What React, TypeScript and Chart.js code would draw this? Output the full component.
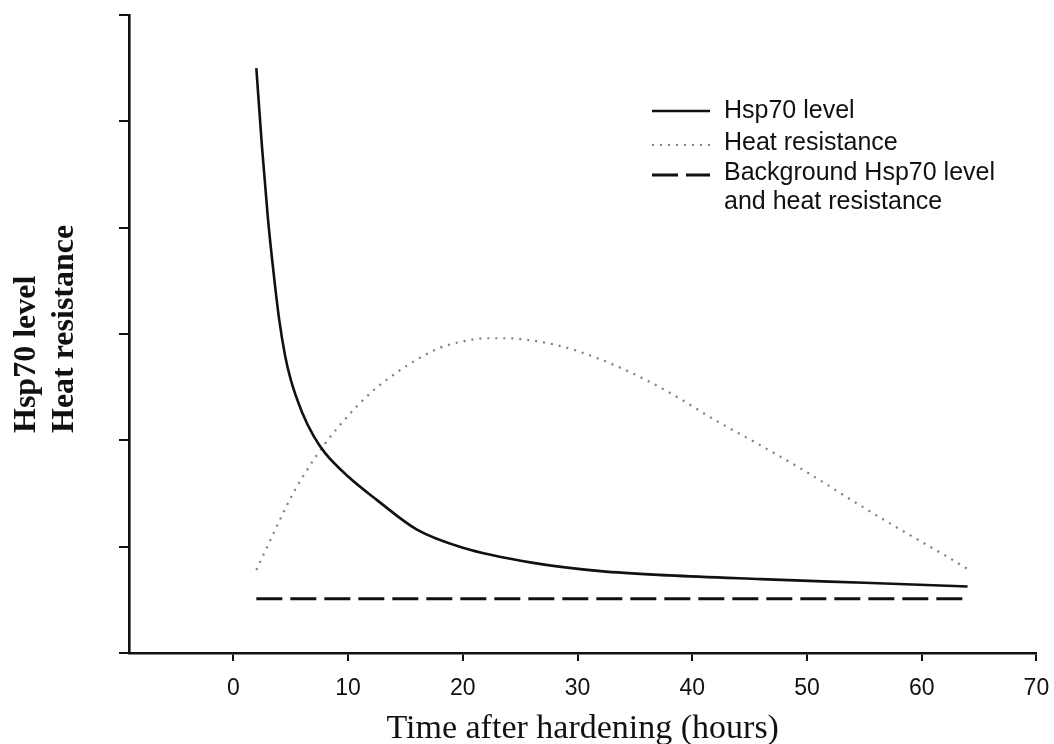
import React, { useEffect, useRef } from "react";
import { Chart, registerables } from "chart.js";

Chart.register(...registerables);

// ---- data ----
const X_TICKS = [0, 10, 20, 30, 40, 50, 60, 70];
const Y_TICKS = [0, 1, 2, 3, 4, 5, 6];
const X_MIN = -9.1;
const X_MAX = 70;
const Y_MIN = 0;
const Y_MAX = 6;

const HSP_X = [2, 2.5, 3, 3.5, 4, 4.5, 5, 6, 7, 8, 10, 12.5, 16, 20, 26, 32, 38, 46, 55, 64];
const HSP_Y = [5.5, 4.75, 4.1, 3.58, 3.13, 2.8, 2.57, 2.26, 2.04, 1.88, 1.66, 1.44, 1.16, 0.99, 0.85, 0.77, 0.73, 0.695, 0.66, 0.625];

const HEAT_X = [2, 3, 4, 5, 6, 8, 10, 12, 14, 16, 18, 20, 22, 24, 26, 28, 30, 34, 38, 42, 46, 50, 54, 58, 62, 64];
const HEAT_Y = [0.78, 1.01, 1.24, 1.46, 1.65, 1.97, 2.23, 2.45, 2.62, 2.76, 2.87, 2.93, 2.96, 2.96, 2.94, 2.9, 2.84, 2.67, 2.45, 2.19, 1.95, 1.7, 1.43, 1.17, 0.92, 0.79];

const BG_X = [2, 64];
const BG_Y = [0.51, 0.51];

const SERIES_NAMES = ["Hsp70 level", "Heat resistance", "Background Hsp70 level"];
const LEGEND_TEXT = [["Hsp70 level"], ["Heat resistance"], ["Background Hsp70 level", "and heat resistance"]];
const X_TITLE = "Time after hardening (hours)";
const Y_TITLE = ["Hsp70 level", "Heat resistance"];

const toPoints = (xs: number[], ys: number[]) => xs.map((x, i) => ({ x, y: ys[i] }));

const INK = "#111";

const overlayPlugin = {
  id: "overlay",
  afterDraw(chart: any) {
    const ctx = chart.ctx as CanvasRenderingContext2D;
    ctx.save();
    ctx.fillStyle = INK;
    // y-axis title, two left-aligned rotated lines
    ctx.font = 'bold 32px "Liberation Serif", "Times New Roman", serif';
    ctx.textAlign = "left";
    ctx.textBaseline = "alphabetic";
    const baseX = [35, 73];
    Y_TITLE.forEach((t, i) => {
      ctx.save();
      ctx.translate(baseX[i], 433);
      ctx.rotate(-Math.PI / 2);
      ctx.fillText(t, 0, 0);
      ctx.restore();
    });

    // legend
    const rows = [
      { sampleY: 111, baselines: [118] },
      { sampleY: 145, baselines: [150] },
      { sampleY: 175, baselines: [180, 209] },
    ];
    ctx.font = '25px "Liberation Sans", Arial, sans-serif';
    rows.forEach((row, i) => {
      const ds = chart.data.datasets[i];
      ctx.save();
      ctx.strokeStyle = ds.borderColor;
      ctx.lineWidth = ds.borderWidth;
      ctx.setLineDash(ds.borderDash || []);
      ctx.beginPath();
      ctx.moveTo(652, row.sampleY);
      ctx.lineTo(710, row.sampleY);
      ctx.stroke();
      ctx.restore();
      LEGEND_TEXT[i].forEach((line, j) => {
        ctx.fillText(line, 724, row.baselines[j]);
      });
    });
    ctx.restore();
  },
};

export default function App() {
  const canvasRef = useRef<HTMLCanvasElement | null>(null);

  useEffect(() => {
    const canvas = canvasRef.current;
    if (!canvas) return;
    const chart = new Chart(canvas, {
      type: "line",
      data: {
        datasets: [
          {
            label: SERIES_NAMES[0],
            data: toPoints(HSP_X, HSP_Y),
            borderColor: INK,
            borderWidth: 2.6,
            pointRadius: 0,
            cubicInterpolationMode: "monotone",
            fill: false,
          },
          {
            label: SERIES_NAMES[1],
            data: toPoints(HEAT_X, HEAT_Y),
            borderColor: "rgba(40,40,40,0.6)",
            borderWidth: 2.2,
            borderDash: [2, 6],
            pointRadius: 0,
            cubicInterpolationMode: "monotone",
            fill: false,
          },
          {
            label: SERIES_NAMES[2],
            data: toPoints(BG_X, BG_Y),
            borderColor: INK,
            borderWidth: 3,
            borderDash: [26, 8],
            pointRadius: 0,
            fill: false,
          },
        ],
      },
      options: {
        responsive: false,
        animation: false,
        devicePixelRatio: 1,
        layout: { padding: { left: 0, top: 15, right: 17.6, bottom: 0 } },
        plugins: {
          legend: { display: false },
          tooltip: { enabled: false },
        },
        scales: {
          x: {
            type: "linear",
            min: X_MIN,
            max: X_MAX,
            afterBuildTicks: (scale: any) => {
              scale.ticks = X_TICKS.map((v) => ({ value: v }));
            },
            afterFit: (scale: any) => {
              scale.height = 91;
              scale.paddingLeft = 0;
              scale.paddingRight = 0;
            },
            grid: {
              drawOnChartArea: false,
              drawTicks: true,
              tickLength: 8,
              color: INK,
              lineWidth: 2,
            },
            border: { display: true, color: INK, width: 2.6 },
            ticks: {
              color: INK,
              padding: 14,
              maxRotation: 0,
              autoSkip: false,
              font: { family: '"Liberation Sans", Arial, sans-serif', size: 23 },
            },
            title: {
              display: true,
              text: X_TITLE,
              color: INK,
              padding: 0,
              font: { family: '"Liberation Serif", "Times New Roman", serif', size: 34, lineHeight: 0.9 },
            },
          },
          y: {
            type: "linear",
            min: Y_MIN,
            max: Y_MAX,
            afterBuildTicks: (scale: any) => {
              scale.ticks = Y_TICKS.map((v) => ({ value: v }));
            },
            afterFit: (scale: any) => {
              scale.width = 129;
              scale.paddingTop = 0;
              scale.paddingBottom = 0;
            },
            grid: {
              drawOnChartArea: false,
              drawTicks: true,
              tickLength: 10,
              color: INK,
              lineWidth: 2,
            },
            border: { display: true, color: INK, width: 2.6 },
            ticks: { display: false },
          },
        },
      },
      plugins: [overlayPlugin],
    } as any);
    return () => chart.destroy();
  }, []);

  return (
    <div style={{ position: "fixed", left: 0, top: 0, width: 1054, height: 744, background: "#fff" }}>
      <canvas ref={canvasRef} width={1054} height={744} style={{ display: "block", width: 1054, height: 744 }} />
    </div>
  );
}
